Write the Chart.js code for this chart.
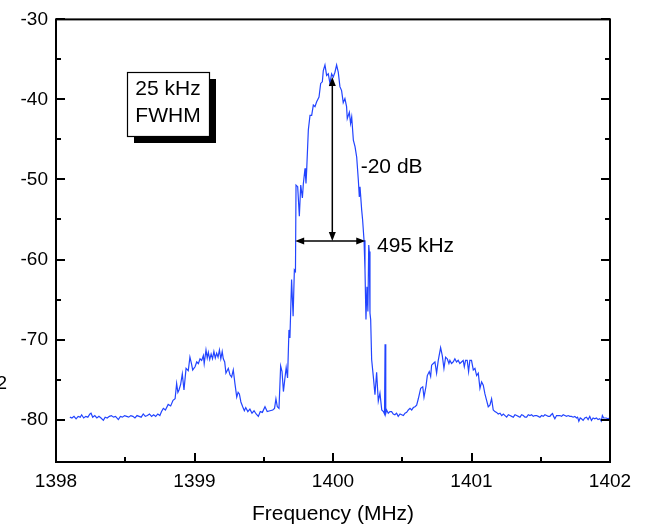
<!DOCTYPE html>
<html><head><meta charset="utf-8">
<script src="https://cdn.jsdelivr.net/npm/chart.js@4"></script>
<style>html,body{margin:0;padding:0;background:#fff;overflow:hidden}canvas{display:block}</style>
</head><body>
<canvas id="c" width="645" height="527"></canvas>
<script>
// ---- data ----
const freq = [
1398.10,1398.115,1398.13,1398.145,1398.16,1398.175,1398.185,1398.20,1398.215,1398.23,1398.245,1398.253,1398.265,1398.28,1398.295,1398.31,1398.325,1398.342,1398.355,1398.37,
1398.385,1398.40,1398.415,1398.43,1398.45,1398.465,1398.48,1398.495,1398.51,1398.525,1398.54,1398.555,1398.57,1398.585,1398.60,1398.615,1398.63,1398.645,1398.66,1398.675,
1398.69,1398.705,1398.72,1398.735,1398.75,1398.762,1398.775,1398.79,1398.81,1398.828,1398.845,1398.86,1398.871,1398.88,1398.888,1398.90,1398.912,1398.924,1398.939,1398.955,
1398.967,1398.978,1398.987,1399.004,1399.016,1399.028,1399.04,1399.052,1399.064,1399.07,1399.083,1399.092,1399.10,1399.11,1399.12,1399.13,1399.14,1399.15,1399.16,1399.17,
1399.18,1399.19,1399.20,1399.208,1399.218,1399.227,1399.244,1399.256,1399.268,1399.28,1399.292,1399.305,1399.315,1399.324,1399.335,1399.348,1399.36,1399.37,1399.385,1399.40,
1399.415,1399.43,1399.445,1399.461,1399.475,1399.49,1399.509,1399.525,1399.545,1399.565,1399.578,1399.588,1399.598,1399.61,1399.622,1399.632,1399.642,1399.653,1399.662,1399.672,
1399.682,1399.689,1399.701,1399.712,1399.721,1399.729,1399.733,1399.745,1399.757,1399.767,1399.779,1399.786,1399.798,1399.805,1399.81,1399.822,1399.834,1399.846,1399.858,1399.87,
1399.882,1399.899,1399.911,1399.923,1399.93,1399.942,1399.954,1399.966,1399.978,1399.99,1400.002,1400.014,1400.026,1400.038,1400.05,1400.062,1400.074,1400.086,1400.098,1400.103,
1400.118,1400.127,1400.135,1400.147,1400.159,1400.171,1400.183,1400.19,1400.195,1400.207,1400.214,1400.224,1400.231,1400.238,1400.245,1400.252,1400.258,1400.262,1400.267,1400.272,
1400.279,1400.291,1400.303,1400.315,1400.327,1400.339,1400.352,1400.364,1400.372,1400.376,1400.381,1400.387,1400.399,1400.411,1400.423,1400.435,1400.447,1400.459,1400.471,1400.484,
1400.496,1400.508,1400.52,1400.532,1400.544,1400.556,1400.568,1400.58,1400.592,1400.604,1400.616,1400.633,1400.648,1400.657,1400.671,1400.681,1400.695,1400.705,1400.712,1400.724,
1400.736,1400.748,1400.76,1400.777,1400.789,1400.801,1400.813,1400.825,1400.837,1400.844,1400.856,1400.868,1400.88,1400.892,1400.904,1400.916,1400.928,1400.94,1400.948,1400.957,
1400.969,1400.979,1400.988,1401.0,1401.013,1401.025,1401.037,1401.049,1401.061,1401.073,1401.085,1401.097,1401.109,1401.121,1401.133,1401.145,1401.157,1401.169,1401.181,1401.193,
1401.206,1401.218,1401.23,1401.242,1401.254,1401.266,1401.278,1401.29,1401.302,1401.314,1401.326,1401.338,1401.35,1401.362,1401.374,1401.386,1401.398,1401.41,1401.422,1401.434,
1401.446,1401.458,1401.47,1401.482,1401.494,1401.506,1401.518,1401.53,1401.542,1401.554,1401.566,1401.575,1401.585,1401.593,1401.602,1401.614,1401.626,1401.638,1401.65,1401.662,
1401.674,1401.686,1401.698,1401.71,1401.722,1401.734,1401.746,1401.758,1401.766,1401.775,1401.785,1401.794,1401.806,1401.818,1401.83,1401.842,1401.854,1401.866,1401.878,1401.89,
1401.902,1401.914,1401.926,1401.937,1401.945,1401.954,1401.965,1401.973,1401.985,1401.997
];
const level = [
-79.7,-79.8,-79.6,-79.9,-79.6,-79.7,-79.4,-79.8,-79.6,-79.7,-79.3,-79.2,-79.7,-79.5,-79.8,-79.6,-79.8,-80.1,-79.7,-79.8,
-79.6,-79.5,-79.7,-79.6,-80.0,-79.6,-79.7,-79.5,-79.6,-79.7,-79.5,-79.6,-79.8,-79.5,-79.6,-79.7,-79.3,-79.6,-79.5,-79.3,
-79.6,-79.4,-79.6,-79.3,-79.5,-79.0,-78.6,-78.8,-78.1,-78.3,-77.6,-77.4,-75.5,-76.6,-76.3,-75.6,-74.3,-76.3,-73.6,-73.9,
-72.2,-73.0,-73.8,-73.4,-72.8,-73.0,-72.4,-72.6,-72.0,-73.0,-71.3,-72.3,-71.6,-72.5,-71.8,-72.4,-71.5,-72.3,-71.7,-72.2,
-71.3,-72.4,-71.5,-72.4,-72.8,-74.2,-73.6,-74.4,-74.7,-73.8,-75.5,-77.2,-76.6,-76.8,-77.8,-78.4,-78.9,-78.5,-79.0,-78.7,
-79.2,-78.9,-79.3,-79.6,-79.0,-79.1,-78.4,-79.0,-78.9,-78.8,-78.6,-77.4,-78.4,-78.6,-73.3,-74.0,-76.5,-74.8,-73.5,-74.8,
-68.8,-69.8,-62.5,-67.1,-61.3,-61.5,-50.7,-50.9,-54.6,-50.7,-52.3,-50.5,-48.6,-50.5,-48.8,-43.8,-42.0,-42.0,-40.7,-40.9,
-40.3,-39.7,-38.0,-37.8,-36.4,-35.7,-37.0,-36.8,-38.0,-36.8,-37.2,-36.6,-35.7,-36.6,-38.4,-38.9,-40.4,-39.9,-40.9,-42.4,
-41.6,-43.0,-42.2,-45.1,-45.9,-47.2,-50.1,-52.2,-50.9,-53.8,-55.1,-57.6,-61.3,-67.5,-63.4,-66.5,-58.2,-59.0,-66.7,-67.5,
-72.5,-74.6,-76.9,-74.1,-77.7,-76.7,-78.8,-79.0,-79.3,-70.6,-79.2,-78.8,-79.2,-79.0,-79.0,-79.3,-79.4,-79.2,-79.6,-79.3,
-79.4,-79.5,-79.2,-79.1,-78.8,-78.6,-78.8,-78.5,-78.4,-78.2,-77.4,-76.1,-75.9,-77.2,-75.9,-74.5,-74.0,-74.6,-73.2,-73.0,
-72.8,-74.2,-72.6,-71.0,-72.0,-73.6,-72.2,-72.4,-73.0,-72.6,-73.0,-72.8,-72.4,-72.8,-72.6,-73.0,-72.8,-72.6,-73.4,-72.6,
-72.6,-74.0,-72.6,-72.6,-73.8,-73.6,-74.5,-74.2,-76.1,-75.3,-75.7,-76.8,-77.6,-78.4,-78.2,-77.4,-78.8,-79.0,-79.1,-79.3,
-79.2,-79.5,-79.3,-79.5,-79.7,-79.4,-79.5,-79.6,-79.7,-79.4,-79.5,-79.6,-79.7,-79.4,-79.5,-79.7,-79.7,-79.4,-79.5,-79.4,
-79.6,-79.5,-79.5,-79.6,-79.7,-79.5,-79.6,-79.4,-79.5,-79.6,-79.6,-79.4,-79.25,-79.6,-79.9,-79.5,-79.5,-79.5,-79.6,-79.4,
-79.5,-79.6,-79.5,-79.6,-79.6,-79.7,-79.6,-79.8,-79.7,-80.2,-79.8,-79.9,-80.1,-79.8,-79.7,-80.0,-79.6,-80.1,-79.8,-79.9,
-79.8,-80.0,-79.9,-80.2,-79.5,-79.8,-79.8,-79.8,-79.9,-79.8
];
const xTicks = [1398, 1399, 1400, 1401, 1402];
const xMinorTicks = [1398.5, 1399.5, 1400.5, 1401.5];
const yTicks = [-80, -70, -60, -50, -40, -30];
const yMinorTicks = [-75, -65, -55, -45, -35];
const boxLines = ['25 kHz', 'FWHM'];
const dbLabel = '-20 dB';
const widthLabel = '495 kHz';
const sideLabel = '2';
// annotation anchors in data units
const boxAnchor = {x: 1398.513, y: -36.6};
const vArrow = {x: 1399.995, yTop: -37.2, yBottom: -57.7};
const hArrow = {y: -57.7, xLeft: 1399.727, xRight: 1400.233};
const dbLabelAt = {x: 1400.20, y: -48.5};
const widthLabelAt = {x: 1400.318, y: -58.3};

const FONT = "'Liberation Sans', Arial, Helvetica, sans-serif";

function arrowHead(ctx, x, y, dx, dy) {
  const len = 9, hw = 3.5;
  const px = -dy, py = dx;
  ctx.beginPath();
  ctx.moveTo(x, y);
  ctx.lineTo(x - dx * len + px * hw, y - dy * len + py * hw);
  ctx.lineTo(x - dx * len - px * hw, y - dy * len - py * hw);
  ctx.closePath();
  ctx.fill();
}

const extras = {
  id: 'extras',
  afterDraw(chart) {
    const {ctx, chartArea: a, scales: {x, y}} = chart;
    ctx.save();
    ctx.strokeStyle = '#000';
    ctx.fillStyle = '#000';
    ctx.lineWidth = 2;
    ctx.strokeRect(a.left, a.top, a.right - a.left, a.bottom - a.top);
    ctx.beginPath();
    xTicks.forEach(v => { const p = Math.round(x.getPixelForValue(v)); ctx.moveTo(p, a.bottom); ctx.lineTo(p, a.bottom - 9); });
    xMinorTicks.forEach(v => { const p = Math.round(x.getPixelForValue(v)); ctx.moveTo(p, a.bottom); ctx.lineTo(p, a.bottom - 5); });
    yTicks.forEach(v => { const p = Math.round(y.getPixelForValue(v)); ctx.moveTo(a.left, p); ctx.lineTo(a.left + 9, p); ctx.moveTo(a.right, p); ctx.lineTo(a.right - 9, p); });
    yMinorTicks.forEach(v => { const p = Math.round(y.getPixelForValue(v)); ctx.moveTo(a.left, p); ctx.lineTo(a.left + 5, p); ctx.moveTo(a.right, p); ctx.lineTo(a.right - 5, p); });
    ctx.stroke();

    // box with shadow
    const bx = Math.round(x.getPixelForValue(boxAnchor.x)), by = Math.round(y.getPixelForValue(boxAnchor.y));
    const bw = 82, bh = 64;
    ctx.fillStyle = '#000';
    ctx.fillRect(bx + 7, by + 7, bw, bh);
    ctx.fillStyle = '#fff';
    ctx.fillRect(bx, by, bw, bh);
    ctx.lineWidth = 1.2;
    ctx.strokeRect(bx + 0.5, by + 0.5, bw, bh);
    ctx.fillStyle = '#000';
    ctx.font = '21px ' + FONT;
    ctx.textAlign = 'center';
    ctx.textBaseline = 'middle';
    ctx.fillText(boxLines[0], bx + bw / 2, by + 17);
    ctx.fillText(boxLines[1], bx + bw / 2, by + 44);

    // arrows
    ctx.lineWidth = 1.5;
    const vx = x.getPixelForValue(vArrow.x), vt = y.getPixelForValue(vArrow.yTop), vb = y.getPixelForValue(vArrow.yBottom);
    ctx.beginPath(); ctx.moveTo(vx, vt + 4); ctx.lineTo(vx, vb - 4); ctx.stroke();
    arrowHead(ctx, vx, vt, 0, -1);
    arrowHead(ctx, vx, vb, 0, 1);
    const hy = y.getPixelForValue(hArrow.y), hl = x.getPixelForValue(hArrow.xLeft), hr = x.getPixelForValue(hArrow.xRight);
    ctx.beginPath(); ctx.moveTo(hl + 4, hy); ctx.lineTo(hr - 4, hy); ctx.stroke();
    arrowHead(ctx, hl, hy, -1, 0);
    arrowHead(ctx, hr, hy, 1, 0);

    ctx.textAlign = 'left';
    ctx.fillText(dbLabel, x.getPixelForValue(dbLabelAt.x), y.getPixelForValue(dbLabelAt.y));
    ctx.fillText(widthLabel, x.getPixelForValue(widthLabelAt.x), y.getPixelForValue(widthLabelAt.y));
    ctx.font = '19px ' + FONT;
    ctx.textAlign = 'right';
    ctx.fillText(sideLabel, 7, 384);
    ctx.restore();
  }
};

new Chart(document.getElementById('c').getContext('2d'), {
  type: 'line',
  data: {
    datasets: [{
      data: freq.map((f, i) => ({x: f, y: level[i]})),
      borderColor: '#2244ff',
      borderWidth: 1.2,
      pointRadius: 0,
      tension: 0,
      fill: false
    }]
  },
  options: {
    responsive: false,
    animation: false,
    devicePixelRatio: 1,
    layout: {padding: {top: 19, right: 35, left: 0, bottom: 0}},
    plugins: {legend: {display: false}, tooltip: {enabled: false}},
    scales: {
      x: {
        type: 'linear', min: 1398, max: 1402,
        afterBuildTicks: s => { s.ticks = xTicks.map(v => ({value: v})); },
        afterFit: s => { s.height = 65; },
        grid: {display: false, drawTicks: false},
        border: {display: false},
        ticks: {color: '#000', font: {family: FONT, size: 19}, padding: 8, maxRotation: 0, autoSkip: false, callback: v => String(v)},
        title: {display: true, text: 'Frequency (MHz)', color: '#000', font: {family: FONT, size: 21}, padding: {top: 0, bottom: 0}}
      },
      y: {
        type: 'linear', min: -85.3, max: -30,
        afterBuildTicks: s => { s.ticks = yTicks.map(v => ({value: v})); },
        afterFit: s => { s.width = 56; },
        grid: {display: false, drawTicks: false},
        border: {display: false},
        ticks: {color: '#000', font: {family: FONT, size: 19}, padding: 8, autoSkip: false, callback: v => String(v)}
      }
    }
  },
  plugins: [extras]
});
</script>
</body></html>
